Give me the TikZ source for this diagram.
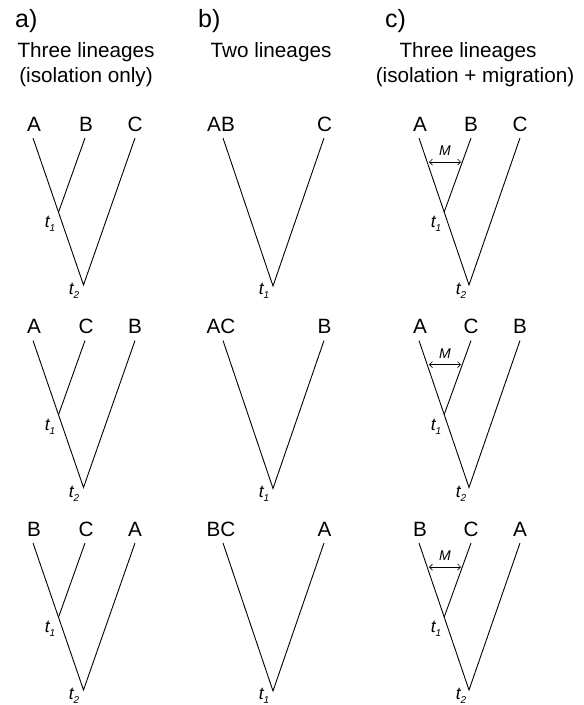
\documentclass[tikz,border=0pt]{standalone}
\usepackage{fontspec}
\setmainfont{Liberation Sans}
\usetikzlibrary{arrows.meta}
\newcommand{\tlab}[1]{t\raisebox{-0.45ex}{\fontsize{10}{10}\selectfont #1}}
\begin{document}
\begin{tikzpicture}[x=1pt,y=-1pt,
  lbl/.style={font=\fontsize{20.7}{24}\selectfont, inner sep=0pt, anchor=base},
  hdr/.style={font=\fontsize{20.7}{25}\selectfont, inner sep=0pt, anchor=base},
  pan/.style={font=\fontsize{25}{28}\selectfont, inner sep=0pt, anchor=base west},
  tl/.style={font=\fontsize{17.5}{19}\selectfont\itshape, inner sep=0pt},
  ml/.style={font=\fontsize{14}{16}\selectfont\itshape, inner sep=0pt},
  br/.style={line width=0.9pt},
  mig/.style={line width=0.7pt, {Straight Barb[length=3pt,width=6pt]}-{Straight Barb[length=3pt,width=6pt]}}]
\useasboundingbox (0,0) rectangle (584,705);
% headers
\node[pan] (pa) at (15,27) {a)};
\node[pan] (pb) at (198,27) {b)};
\node[pan] (pc) at (385,27) {c)};
\node[hdr] (ha1) at (86,57) {Three lineages};
\node[hdr] (ha2) at (86,82) {(isolation only)};
\node[hdr] (hb1) at (271,57) {Two lineages};
\node[hdr] (hc1) at (468,57) {Three lineages};
\node[hdr] (hc2) at (475,82) {(isolation + migration)};
\foreach \r/\la/\lb/\lc/\pl/\pr in {0/A/B/C/AB/C, 1/A/C/B/AC/B, 2/B/C/A/BC/A} {
  \begin{scope}[shift={(0,202.5*\r)}]
    % panel a
    \node[lbl] (aL\r) at (34,131) {\la};
    \node[lbl] (aM\r) at (86,131) {\lb};
    \node[lbl] (aR\r) at (135,131) {\lc};
    \coordinate (aLt\r) at (33,138);
    \coordinate (aMt\r) at (85,138);
    \coordinate (aRt\r) at (135,138);
    \coordinate (aJ\r) at (58.6,212);
    \coordinate (aX\r) at (83.5,285);
    \draw[br] (aLt\r) -- (aX\r) -- (aRt\r);
    \draw[br] (aMt\r) -- (aJ\r);
    \node[tl] (at1\r) at (50,224) {\tlab{1}};
    \node[tl] (at2\r) at (74,291) {\tlab{2}};
    % panel b
    \node[lbl] (bL\r) at (221,131) {\pl};
    \node[lbl] (bR\r) at (324.5,131) {\pr};
    \coordinate (bLt\r) at (223,138);
    \coordinate (bRt\r) at (324,138);
    \coordinate (bX\r) at (273,286);
    \draw[br] (bLt\r) -- (bX\r) -- (bRt\r);
    \node[tl] (bt1\r) at (264,291) {\tlab{1}};
    % panel c
    \node[lbl] (cL\r) at (420,131) {\la};
    \node[lbl] (cM\r) at (471,131) {\lb};
    \node[lbl] (cR\r) at (520,131) {\lc};
    \coordinate (cLt\r) at (419,138);
    \coordinate (cMt\r) at (471,138);
    \coordinate (cRt\r) at (520,138);
    \coordinate (cJ\r) at (444.2,212);
    \coordinate (cX\r) at (469,285);
    \draw[br] (cLt\r) -- (cX\r) -- (cRt\r);
    \draw[br] (cMt\r) -- (cJ\r);
    \coordinate (cMa\r) at (429,162);
    \coordinate (cMb\r) at (461,162);
    \draw[mig] (cMa\r) -- (cMb\r);
    \node[ml] (cMl\r) at (445,151) {M};
    \node[tl] (ct1\r) at (436,224) {\tlab{1}};
    \node[tl] (ct2\r) at (461,291) {\tlab{2}};
  \end{scope}
}
\end{tikzpicture}
\end{document}
